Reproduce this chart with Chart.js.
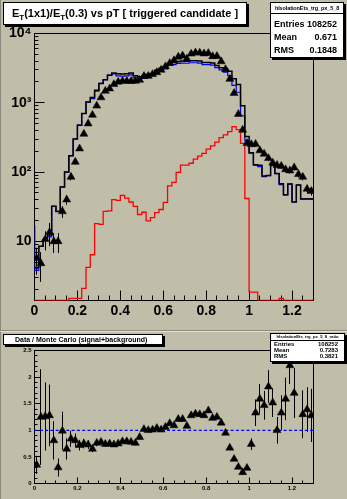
<!DOCTYPE html>
<html>
<head>
<meta charset="utf-8">
<script src="https://cdn.jsdelivr.net/npm/chart.js@4.4.1/dist/chart.umd.min.js"></script>
<style>
  html, body { margin: 0; padding: 0; background: #c0bda8; }
  #page { position: relative; width: 347px; height: 499px; overflow: hidden; background: #c0bda8;
          font-family: "Liberation Sans", Arial, sans-serif; font-weight: bold; color: #000; }
  .pad { position: absolute; left: 0; width: 347px; box-sizing: border-box; }
  #topPad { top: 0; height: 331px; border-left: 1px solid #8c8a7c; border-bottom: 1px solid #8c8a7c; }
  #botPad { top: 331px; height: 168px; border-left: 1px solid #8c8a7c; border-top: 1px solid #e4e2d6; }
  canvas { position: absolute; left: 0; top: 0; }
  .box { position: absolute; box-sizing: border-box; background: #fff; border: 1px solid #000;
         box-shadow: 2px 2px 0 #000; white-space: nowrap; overflow: hidden; }
  .row { position: absolute; left: 3px; right: 6px; display: flex; justify-content: space-between; }
  .ttl { position: absolute; left: 0; right: 0; top: 0; text-align: center; border-bottom: 1px solid #000; }
  sub { font-size: 0.72em; vertical-align: -0.38em; line-height: 0; }
</style>
</head>
<body>
<div id="page">
  <div class="pad" id="topPad"><canvas id="topChart" width="347" height="331"></canvas></div>
  <div class="pad" id="botPad"><canvas id="ratioChart" width="347" height="168"></canvas></div>

  <div class="box" style="left:3px;top:2px;width:244px;height:23px;">
    <div style="position:absolute;left:8px;top:4px;font-size:11px;line-height:13px;">E<sub>T</sub>(1x1)/E<sub>T</sub>(0.3) vs pT [ triggered candidate ]</div>
  </div>
  <div class="box" style="left:270px;top:2px;width:74px;height:56px;">
    <div class="ttl" style="height:10px;font-size:5.5px;line-height:10px;letter-spacing:-0.1px;">hIsolationEts_trg_px_5_8</div>
    <div class="row" style="top:15px;font-size:9px;line-height:12px;"><span>Entries</span><span>108252</span></div>
    <div class="row" style="top:28px;font-size:9px;line-height:12px;"><span>Mean</span><span>0.671</span></div>
    <div class="row" style="top:41px;font-size:9px;line-height:12px;"><span>RMS</span><span>0.1848</span></div>
  </div>

  <div class="box" style="left:3px;top:334px;width:160px;height:11px;">
    <div style="position:absolute;left:11px;top:0;font-size:7px;line-height:9px;">Data / Monte Carlo (signal+background)</div>
  </div>
  <div class="box" style="left:270px;top:333px;width:75px;height:29px;">
    <div class="ttl" style="height:6px;font-size:4.2px;line-height:6px;">hIsolationEts_trg_px_5_8_ratio</div>
    <div class="row" style="top:7px;font-size:6px;line-height:7px;"><span>Entries</span><span>108252</span></div>
    <div class="row" style="top:13px;font-size:6px;line-height:7px;"><span>Mean</span><span>0.7283</span></div>
    <div class="row" style="top:19px;font-size:6px;line-height:7px;"><span>RMS</span><span>0.3821</span></div>
  </div>
</div>

<script>
// binning of the histograms
const binWidth = 0.02;
const xMin = 0, xMax = 1.3;
const yMinTop = 1.4, yMaxTop = 10000;

// tick labels
const xMajorTicks = [0, 0.2, 0.4, 0.6, 0.8, 1.0, 1.2];
const xTickLabels = ['0', '0.2', '0.4', '0.6', '0.8', '1', '1.2'];
const yTopTicks = [10, 100, 1000, 10000];
const yTopTickLabels = ['10', '10²', '10³', '10⁴'];
const yRatioTicks = [0, 0.5, 1, 1.5, 2, 2.5];
const yRatioTickLabels = ['0', '0.5', '1', '1.5', '2', '2.5'];

// data (triangles) and its errors, per 0.02 bin
const dataCounts = [5.7, 4.8, 10.7, 13.5, 10, 10, 27, 40, 85, 140,
  218, 355, 500, 665, 905, 1190, 1480, 1600, 1850, 2000,
  2060, 2060, 2050, 2060, 2130, 2420, 2430, 2580, 2750, 2980,
  3340, 3720, 4100, 4600, 4780, 4320, 5100, 5300, 5270, 5120,
  5200, 4680, 4700, 3950, 3040, 2200, 1380, 686, 406, 261,
  251, 253, 205, 183, 158, 136, 126, 122, 109, 105,
  116, 93, 85, 57, 53];
const dataErrors = [2.4, 2.2, 3.3, 5, 3.2, 3.2, 5.2, 6.3, 9.2, 12,
  15, 19, 22, 26, 30, 34, 38, 40, 43, 45,
  45, 45, 45, 45, 46, 49, 49, 51, 52, 55,
  58, 61, 64, 68, 69, 66, 71, 73, 73, 72,
  72, 68, 69, 63, 55, 47, 37, 26, 20, 16,
  16, 16, 14, 13.5, 12.6, 11.7, 11.2, 11, 10.4, 10.2,
  10.8, 9.6, 9.2, 7.5, 7.3];

// Monte Carlo: signal+background (black), signal (blue), background (red)
const mcTotal = [17, 4.2, 8.5, 10.5, 12.3, 32, 27, 61, 100, 172,
  300, 475, 700, 1030, 1190, 1520, 1900, 2150, 2500, 2700,
  2620, 2600, 2620, 2700, 2450, 2380, 2420, 2550, 2640, 2950,
  3150, 3300, 3750, 3800, 3950, 4000, 3980, 4050, 4050, 4000,
  3800, 3800, 3750, 3450, 3200, 3100, 2850, 2230, 1830, 906,
  325, 190, 128, 125, 88, 89, 126, 95, 68, 47,
  67, 37, 65, 41, 41];
const mcSignal = [17, 3.8, 8.5, 10.5, 11.6, 32, 27, 61, 100, 172,
  300, 475, 700, 1030, 1150, 1470, 1900, 2150, 2500, 2620,
  2450, 2430, 2450, 2525, 2290, 2225, 2260, 2385, 2470, 2760,
  2945, 3085, 3505, 3555, 3695, 3740, 3720, 3785, 3785, 3740,
  3555, 3555, 3505, 3225, 2990, 2760, 2470, 1780, 1420, 650,
  285, 188, 126, 120, 86, 89, 124, 95, 66, 47,
  67, 37, 65, 41, 41];
const mcBackground = [0, 0, 0, 0, 0, 0, 0, 0, 0, 1.5,
  1.5, 1.5, 2.1, 4.2, 6.4, 18, 17.6, 27, 27.5, 40,
  39, 46, 42, 37, 32, 24.4, 26.3, 19.7, 22, 26,
  28.8, 36.5, 63, 71, 99, 126, 126, 134, 154, 170,
  186, 214, 238, 270, 315, 344, 384, 454, 410, 260,
  41.5, 1.85, 1.85, 0, 0, 0, 0, 0, 1.5, 0,
  0, 0, 0, 0, 0];

// data / (signal+background)
const ratioValues = [0.35, 1.25, 1.26, 1.28, 0.81, 0.30, 0.99, 0.65, 0.84, 0.81,
  0.72, 0.75, 0.73, 0.65, 0.76, 0.78, 0.74, 0.75, 0.73, 0.75,
  0.79, 0.79, 0.78, 0.76, 0.87, 1.02, 1.0, 1.01, 1.04, 1.01,
  1.06, 1.13, 1.09, 1.21, 1.21, 1.08, 1.28, 1.31, 1.30, 1.28,
  1.37, 1.23, 1.25, 1.14, 0.95, 0.67, 0.46, 0.31, 0.21, 0.29,
  0.74, 1.33, 1.59, 1.47, 1.82, 1.52, 1.0, 1.33, 1.59, 2.22,
  1.70, 2.6, 1.30, 1.39, 1.28];
const ratioErrors = [0.17, 0.9, 0.64, 0.58, 0.36, 0.17, 0.36, 0.2, 0.15, 0.13,
  0.1, 0.09, 0.08, 0.06, 0.06, 0.05, 0.05, 0.04, 0.04, 0.04,
  0.04, 0.04, 0.04, 0.04, 0.04, 0.04, 0.04, 0.04, 0.04, 0.04,
  0.04, 0.04, 0.04, 0.04, 0.04, 0.04, 0.04, 0.04, 0.04, 0.04,
  0.04, 0.04, 0.04, 0.04, 0.03, 0.03, 0.02, 0.02, 0.02, 0.03,
  0.11, 0.25, 0.28, 0.27, 0.31, 0.27, 0.25, 0.33, 0.4, 0.35,
  0.47, 0.35, 0.45, 0.42, 0.5];

const FONT = '"Liberation Sans", Arial, sans-serif';

// histogram outline: one point per bin low edge plus the last edge (empty bins sit on the floor)
function stepPoints(values, floor) {
  const pts = values.map((v, i) => ({x: xMin + i * binWidth, y: v > 0 ? v : floor}));
  pts.push({x: xMax, y: pts[pts.length - 1].y});
  return pts;
}
function centerPoints(values) {
  return values.map((v, i) => ({x: xMin + (i + 0.5) * binWidth, y: v}));
}

// frame and inside ticks, ROOT style
const rootFrame = {
  id: 'rootFrame',
  beforeDatasetsDraw(chart, args, o) {
    const {ctx, chartArea: a} = chart;
    const xs = chart.scales.x, ys = chart.scales.y;
    const snap = p => Math.round(p - 0.5) + 0.5;
    ctx.save();
    ctx.strokeStyle = '#000';
    ctx.lineWidth = 1;
    ctx.strokeRect(a.left, a.top, a.right - a.left, a.bottom - a.top);
    ctx.beginPath();
    for (let v = xMin; v <= xMax + 1e-9; v += o.xMinorStep) {
      const major = xMajorTicks.some(m => Math.abs(m - v) < 1e-6);
      const px = snap(xs.getPixelForValue(v));
      ctx.moveTo(px, a.bottom);
      ctx.lineTo(px, a.bottom - (major ? o.xMajorLen : o.xMinorLen));
    }
    o.yMinor.forEach(v => {
      const py = snap(ys.getPixelForValue(v));
      ctx.moveTo(a.left, py);
      ctx.lineTo(a.left + o.yMinorLen, py);
    });
    o.yMajor.forEach(v => {
      const py = snap(ys.getPixelForValue(v));
      ctx.moveTo(a.left, py);
      ctx.lineTo(a.left + o.yMajorLen, py);
    });
    ctx.stroke();
    ctx.restore();
  }
};

// vertical error bars for datasets that carry errorBars
const errorBars = {
  id: 'errorBars',
  beforeDatasetsDraw(chart) {
    const {ctx, chartArea: a} = chart;
    const xs = chart.scales.x, ys = chart.scales.y;
    ctx.save();
    ctx.beginPath();
    ctx.rect(a.left, a.top, a.right - a.left, a.bottom - a.top);
    ctx.clip();
    ctx.strokeStyle = '#000';
    ctx.lineWidth = 1;
    chart.data.datasets.forEach(ds => {
      if (!ds.errorBars) return;
      ctx.beginPath();
      ds.data.forEach((p, i) => {
        const e = ds.errorBars[i];
        if (!e) return;
        const px = Math.round(xs.getPixelForValue(p.x) - 0.5) + 0.5;
        const lo = Math.max(p.y - e, ys.min);
        ctx.moveTo(px, ys.getPixelForValue(p.y + e));
        ctx.lineTo(px, ys.getPixelForValue(lo));
      });
      ctx.stroke();
    });
    ctx.restore();
  }
};

function logMinorTicks() {
  const out = [];
  [1, 10, 100, 1000].forEach(d => {
    for (let k = 2; k <= 9; k++) {
      const v = k * d;
      if (v >= yMinTop && v <= yMaxTop) out.push(v);
    }
  });
  return out;
}
function linTicks(step, max) {
  const out = [];
  for (let v = 0; v <= max + 1e-9; v += step) out.push(v);
  return out;
}

function xAxis(height, fontSize, pad) {
  return {
    type: 'linear', min: xMin, max: xMax,
    grid: {display: false, drawTicks: false}, border: {display: false},
    afterBuildTicks: s => { s.ticks = xMajorTicks.map(v => ({value: v})); },
    afterFit: s => { s.height = height; s.paddingLeft = 0; s.paddingRight = 0; },
    ticks: {autoSkip: false, maxRotation: 0, padding: pad, color: '#000',
      font: {family: FONT, size: fontSize, weight: 'bold'},
      callback: (v, i) => xTickLabels[i]}
  };
}

Chart.register(rootFrame, errorBars);

new Chart(document.getElementById('topChart'), {
  type: 'line',
  data: {
    datasets: [
      {label: 'data', data: centerPoints(dataCounts), errorBars: dataErrors, showLine: false,
       pointStyle: 'triangle', pointRadius: 4.6, pointBackgroundColor: '#000',
       pointBorderColor: '#000', pointBorderWidth: 0.5, order: 0},
      {label: 'signal+background', data: stepPoints(mcTotal, yMinTop), stepped: 'after',
       borderColor: '#000', borderWidth: 1.5, pointRadius: 0, order: 1},
      {label: 'signal', data: stepPoints(mcSignal, yMinTop), stepped: 'after',
       borderColor: '#0000ff', borderWidth: 1.2, pointRadius: 0, order: 2},
      {label: 'background', data: stepPoints(mcBackground, yMinTop), stepped: 'after',
       borderColor: '#ff0000', borderWidth: 1.3, pointRadius: 0, order: 3}
    ]
  },
  options: {
    responsive: false, animation: false, devicePixelRatio: 1, events: [],
    layout: {padding: {left: 0, right: 34.5, top: 33.5, bottom: 0}},
    plugins: {
      legend: {display: false}, tooltip: {enabled: false},
      rootFrame: {xMinorStep: 0.05, xMajorLen: 10, xMinorLen: 5,
                  yMajor: yTopTicks, yMinor: logMinorTicks(), yMajorLen: 10, yMinorLen: 4}
    },
    scales: {
      x: xAxis(30.5, 14, 2),
      y: {
        type: 'logarithmic', min: yMinTop, max: yMaxTop,
        grid: {display: false, drawTicks: false}, border: {display: false},
        afterBuildTicks: s => { s.ticks = yTopTicks.map(v => ({value: v})); },
        afterFit: s => { s.width = 33.5; s.paddingTop = 0; s.paddingBottom = 0; },
        ticks: {autoSkip: false, padding: 3, color: '#000',
          font: {family: FONT, size: 14, weight: 'bold'},
          callback: (v, i) => yTopTickLabels[i]}
      }
    }
  }
});

new Chart(document.getElementById('ratioChart'), {
  type: 'line',
  data: {
    datasets: [
      {label: 'ratio', data: centerPoints(ratioValues), errorBars: ratioErrors, showLine: false,
       pointStyle: 'triangle', pointRadius: 4.6, pointBackgroundColor: '#000',
       pointBorderColor: '#000', pointBorderWidth: 0.5, order: 0},
      {label: 'unity', data: [{x: xMin, y: 1}, {x: xMax, y: 1}],
       borderColor: '#0000ff', borderWidth: 1.2, borderDash: [3, 2.3], pointRadius: 0, order: 1}
    ]
  },
  options: {
    responsive: false, animation: false, devicePixelRatio: 1, events: [],
    layout: {padding: {left: 0, right: 34.5, top: 18.5, bottom: 0}},
    plugins: {
      legend: {display: false}, tooltip: {enabled: false},
      rootFrame: {xMinorStep: 0.05, xMajorLen: 6, xMinorLen: 3,
                  yMajor: yRatioTicks, yMinor: linTicks(0.1, 2.5), yMajorLen: 6, yMinorLen: 3}
    },
    scales: {
      x: xAxis(16.5, 6, 1),
      y: {
        type: 'linear', min: 0, max: 2.5,
        grid: {display: false, drawTicks: false}, border: {display: false},
        afterBuildTicks: s => { s.ticks = yRatioTicks.map(v => ({value: v})); },
        afterFit: s => { s.width = 33.5; s.paddingTop = 0; s.paddingBottom = 0; },
        ticks: {autoSkip: false, padding: 3, color: '#000',
          font: {family: FONT, size: 6, weight: 'bold'},
          callback: (v, i) => yRatioTickLabels[i]}
      }
    }
  }
});
</script>
</body>
</html>
